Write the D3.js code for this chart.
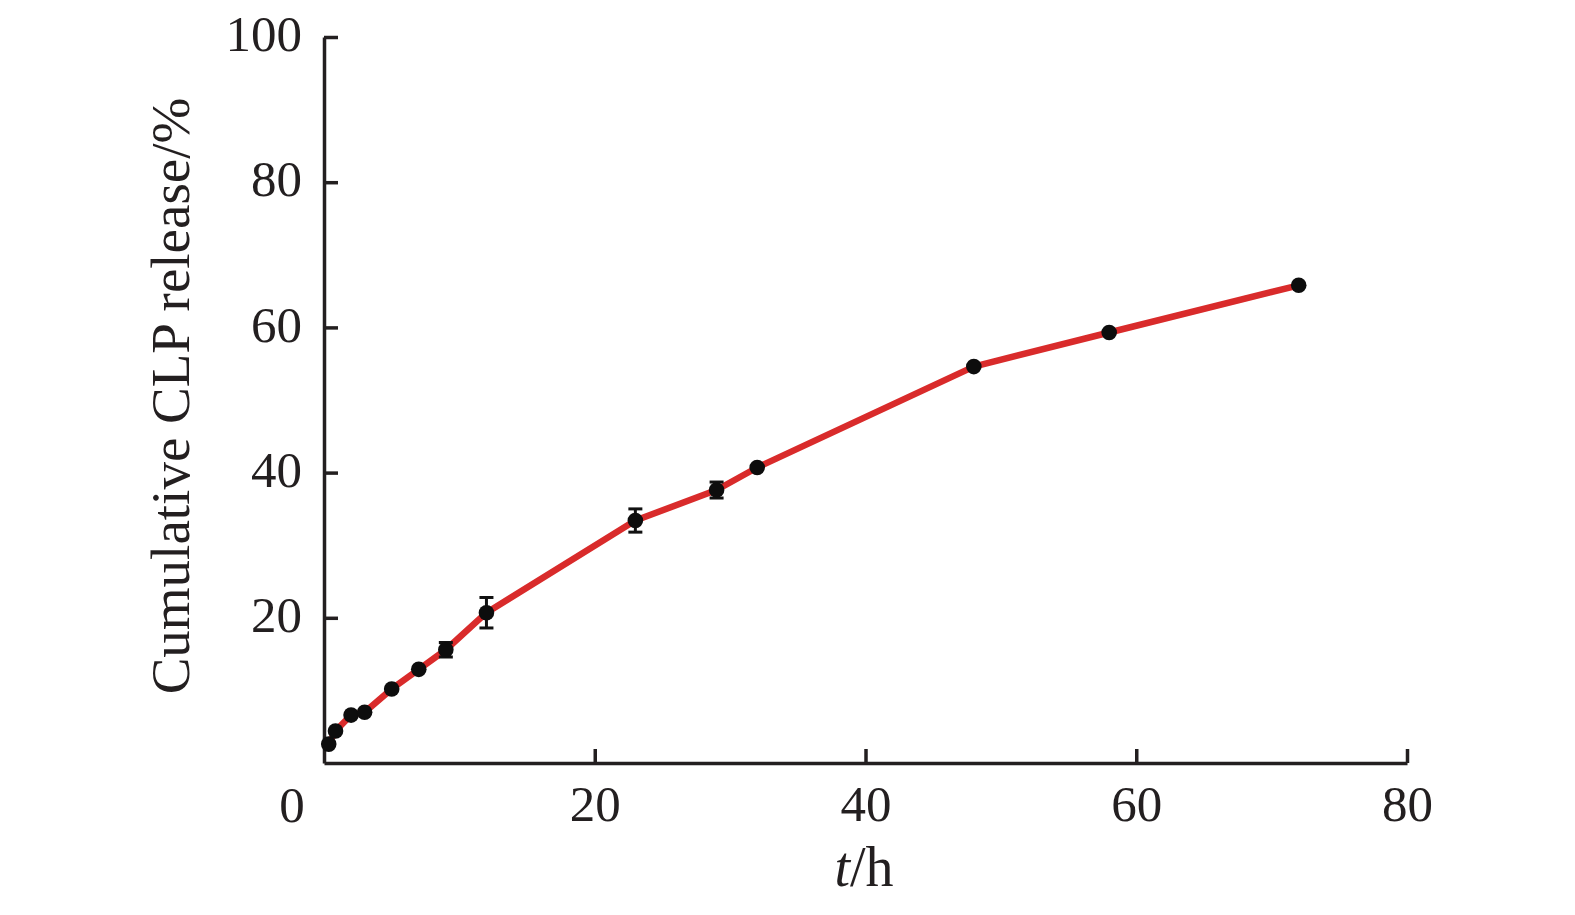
<!DOCTYPE html>
<html>
<head>
<meta charset="utf-8">
<script src="https://cdn.jsdelivr.net/npm/d3@7"></script>
<style>
  html, body { margin: 0; padding: 0; background: #fff; }
  svg { display: block; }
  text { font-family: "Liberation Serif", "DejaVu Serif", serif; fill: #231f20; }
</style>
</head>
<body>
<svg id="chart" width="1575" height="915"></svg>
<script>
// Data
const times    = [0.35, 0.85, 2, 3, 5, 7, 9, 12, 23, 29, 32, 48, 58, 72];
const releases = [2.6, 4.4, 6.6, 7.0, 10.2, 12.9, 15.6, 20.7, 33.4, 37.6, 40.7, 54.6, 59.3, 65.8];
const errors   = [0, 0, 0, 0, 0, 0, 1.0, 2.1, 1.6, 1.1, 0, 0, 0, 0];
const xTicks = [20, 40, 60, 80];
const yTicks = [20, 40, 60, 80, 100];
const xTitleItalic = "t";
const xTitleRest = "/h";
const yTitle = "Cumulative CLP release/%";

const data = times.map((t, i) => ({ t, v: releases[i], e: errors[i] }));

const svg = d3.select("#chart");
const x = d3.scaleLinear().domain([0, 80]).range([324, 1407]);
const y = d3.scaleLinear().domain([0, 100]).range([763, 37]);

const axisColor = "#231f20";

// X axis
const gx = svg.append("g").attr("transform", `translate(0,${y(0)})`)
  .call(d3.axisBottom(x).tickValues(xTicks).tickSize(-14).tickSizeOuter(0).tickFormat(d3.format("d")));
gx.select(".domain").attr("stroke", axisColor).attr("stroke-width", 3.5);
gx.selectAll(".tick line").attr("stroke", axisColor).attr("stroke-width", 3.5);
gx.selectAll(".tick text").attr("y", 58).attr("dy", 0).attr("font-size", 51).attr("fill", axisColor)
  .style("font-family", '"Liberation Serif", serif');

// Y axis
const gy = svg.append("g").attr("transform", `translate(${x(0)},0)`)
  .call(d3.axisLeft(y).tickValues(yTicks).tickSize(-14).tickSizeOuter(0).tickFormat(d3.format("d")));
gy.select(".domain").attr("stroke", axisColor).attr("stroke-width", 3.5);
gy.selectAll(".tick line").attr("stroke", axisColor).attr("stroke-width", 3.5);
gy.selectAll(".tick text").attr("x", -22).attr("dy", "0.27em").attr("font-size", 51).attr("fill", axisColor)
  .style("font-family", '"Liberation Serif", serif');

// origin label
svg.append("text").attr("x", x(0) - 32).attr("y", 822).attr("text-anchor", "middle")
  .attr("font-size", 51).text("0");

// line
const line = d3.line().x(d => x(d.t)).y(d => y(d.v));
svg.append("path").datum(data).attr("d", line)
  .attr("fill", "none").attr("stroke", "#d92b2b").attr("stroke-width", 6.5)
  .attr("stroke-linejoin", "round");

// error bars
const eb = svg.append("g").selectAll("g").data(data.filter(d => d.e > 0)).join("g");
eb.append("line").attr("x1", d => x(d.t)).attr("x2", d => x(d.t))
  .attr("y1", d => y(d.v - d.e)).attr("y2", d => y(d.v + d.e))
  .attr("stroke", "#111").attr("stroke-width", 3);
eb.append("line").attr("x1", d => x(d.t) - 7).attr("x2", d => x(d.t) + 7)
  .attr("y1", d => y(d.v + d.e)).attr("y2", d => y(d.v + d.e))
  .attr("stroke", "#111").attr("stroke-width", 3);
eb.append("line").attr("x1", d => x(d.t) - 7).attr("x2", d => x(d.t) + 7)
  .attr("y1", d => y(d.v - d.e)).attr("y2", d => y(d.v - d.e))
  .attr("stroke", "#111").attr("stroke-width", 3);

// points
svg.append("g").selectAll("circle").data(data).join("circle")
  .attr("cx", d => x(d.t)).attr("cy", d => y(d.v)).attr("r", 7.8)
  .attr("fill", "#0d0d0d");

// x title
const xt = svg.append("text").attr("x", 864).attr("y", 886).attr("text-anchor", "middle").attr("font-size", 56);
xt.append("tspan").attr("font-style", "italic").text(xTitleItalic);
xt.append("tspan").text(xTitleRest);

// y title
svg.append("text").attr("transform", `translate(189,396) rotate(-90)`)
  .attr("text-anchor", "middle").attr("font-size", 55).text(yTitle);
</script>
</body>
</html>
